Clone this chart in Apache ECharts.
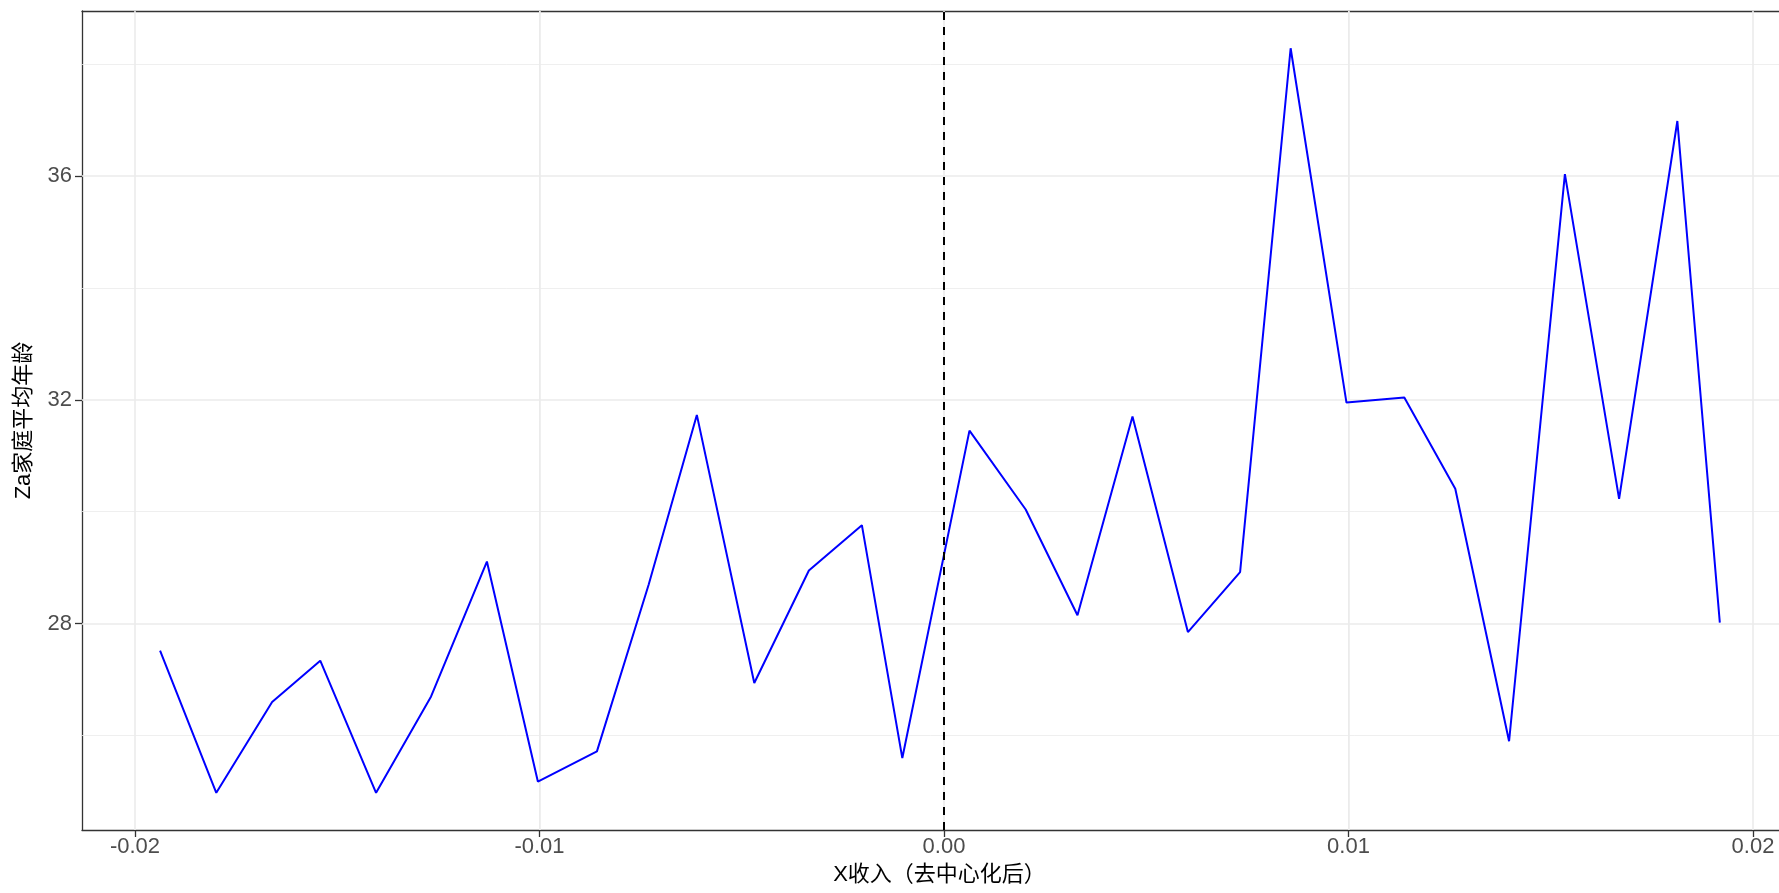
<!DOCTYPE html>
<html>
<head>
<meta charset="utf-8">
<script src="https://cdn.jsdelivr.net/npm/echarts@6/dist/echarts.min.js"></script>
<style>
html,body{margin:0;padding:0;background:#fff;}
#chart{width:1779px;height:893px;}
</style>
</head>
<body>
<div id="chart"></div>
<script>
// Data
const xValues = [-0.01938, -0.01799, -0.01661, -0.01542, -0.01404, -0.01268, -0.01130, -0.01004, -0.00858, -0.00730,
                 -0.00611, -0.00469, -0.00334, -0.00203, -0.00103, 0.00063, 0.00202, 0.00330, 0.00466, 0.00603,
                 0.00732, 0.00857, 0.00995, 0.01138, 0.01264, 0.01397, 0.01535, 0.01669, 0.01813, 0.01918];
const yValues = [27.52, 24.98, 26.60, 27.34, 24.98, 26.70, 29.11, 25.18, 25.72, 28.70,
                 31.73, 26.94, 28.95, 29.76, 25.60, 31.45, 30.04, 28.15, 31.70, 27.85,
                 28.92, 38.28, 31.95, 32.04, 30.41, 25.90, 36.03, 30.23, 36.98, 28.02];
const xTicks = [-0.02, -0.01, 0, 0.01, 0.02];
const xTickLabels = ['-0.02', '-0.01', '0.00', '0.01', '0.02'];
const xMinor = [-0.015, -0.005, 0.005, 0.015];
const yTicks = [28, 32, 36];
const yMinor = [26, 30, 34, 38];
const xTitle = 'X收入（去中心化后）';
const yTitle = 'Za家庭平均年龄';
const cutoff = 0;

// visible axis window (the panel runs off the right edge of the picture)
const xMin = -0.02131, xMax = 0.020643;
const yMin = 24.315, yMax = 38.945;

const FONT = '"Liberation Sans", Arial, "Noto Sans CJK SC", sans-serif';

const chart = echarts.init(document.getElementById('chart'), null, {renderer: 'canvas'});

function gridLines(axisKey, vals, width) {
  return vals.map(v => ({[axisKey]: v, lineStyle: {color: '#EBEBEB', width: width, type: 'solid'}}));
}

const axisLineStyle = {color: '#333333', width: 1.3};

const option = {
  backgroundColor: '#ffffff',
  animation: false,
  grid: {left: 82, top: 11, right: 0, bottom: 63, show: false},
  xAxis: [
    {
      type: 'value', min: xMin, max: xMax,
      name: xTitle, nameLocation: 'middle', nameGap: 34,
      nameTextStyle: {fontSize: 22, color: '#000', fontFamily: FONT, padding: [0, 0, 0, 18]},
      axisLine: {show: true, onZero: false, lineStyle: axisLineStyle},
      axisTick: {show: true, length: 7, customValues: xTicks, lineStyle: {color: '#333', width: 1.3}},
      axisLabel: {
        customValues: xTicks, margin: 6, fontSize: 22, color: '#4D4D4D', fontFamily: FONT,
        formatter: v => { const i = xTicks.findIndex(t => Math.abs(t - v) < 1e-9); return i >= 0 ? xTickLabels[i] : ''; }
      },
      splitLine: {show: false}, minorSplitLine: {show: false}
    },
    {
      type: 'value', position: 'top', min: xMin, max: xMax,
      axisLine: {show: true, onZero: false, lineStyle: axisLineStyle},
      axisTick: {show: false}, axisLabel: {show: false}, splitLine: {show: false}
    }
  ],
  yAxis: {
    type: 'value', min: yMin, max: yMax,
    name: yTitle, nameLocation: 'middle', nameGap: 47, nameRotate: 90,
    nameTextStyle: {fontSize: 22, color: '#000', fontFamily: FONT},
    axisLine: {show: true, onZero: false, lineStyle: axisLineStyle},
    axisTick: {show: true, length: 7, customValues: yTicks, lineStyle: {color: '#333', width: 1.3}},
    axisLabel: {customValues: yTicks, margin: 10, fontSize: 22, color: '#4D4D4D', fontFamily: FONT},
    splitLine: {show: false}, minorSplitLine: {show: false}
  },
  series: [
    {
      type: 'line', data: [], silent: true, z: 1,
      markLine: {
        silent: true, symbol: ['none', 'none'], label: {show: false}, animation: false, z: 1,
        data: [].concat(
          gridLines('xAxis', xMinor, 0.8), gridLines('yAxis', yMinor, 0.8),
          gridLines('xAxis', xTicks, 1.6), gridLines('yAxis', yTicks, 1.6)
        )
      }
    },
    {
      type: 'line', z: 3,
      data: xValues.map((x, i) => [x, yValues[i]]),
      showSymbol: false, symbol: 'none',
      lineStyle: {color: '#0000FF', width: 2},
      emphasis: {disabled: true}
    },
    {
      type: 'line', data: [], silent: true, z: 4,
      markLine: {
        silent: true, symbol: ['none', 'none'], label: {show: false}, animation: false, z: 4,
        lineStyle: {color: '#000000', width: 2, type: [8, 7], opacity: 1},
        emphasis: {disabled: true},
        data: [{xAxis: cutoff}]
      }
    }
  ]
};
chart.setOption(option);
</script>
</body>
</html>
